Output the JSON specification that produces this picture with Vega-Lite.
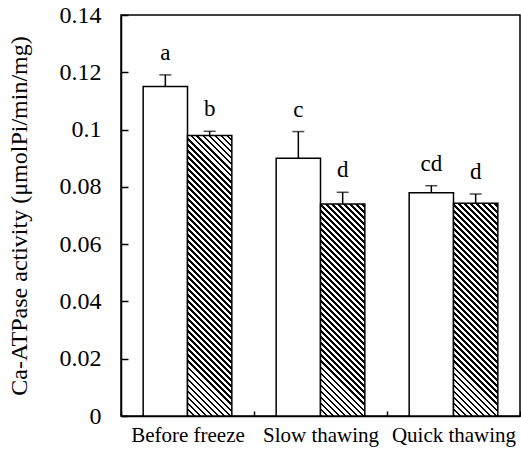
{
  "$schema": "https://vega.github.io/schema/vega-lite/v6.json",
  "width": 399,
  "height": 401,
  "autosize": {"type": "none"},
  "padding": {"left": 121, "top": 15, "right": 1, "bottom": 41},
  "config": {
    "font": "Liberation Serif",
    "view": {"stroke": "black", "strokeWidth": 1.5},
    "axis": {"grid": false, "domainColor": "black", "domainWidth": 1.5, "tickColor": "black", "tickWidth": 1.5, "labelColor": "black", "titleColor": "black", "labelFont": "Liberation Serif", "titleFont": "Liberation Serif"}
  },
  "params": [
    {
      "name": "hatchStops",
      "value": [
        {"offset":0,"color":"#000"},{"offset":0.0071,"color":"#000"},{"offset":0.0071,"color":"#fff"},{"offset":0.0179,"color":"#fff"},
        {"offset":0.0179,"color":"#000"},{"offset":0.0250,"color":"#000"},{"offset":0.0250,"color":"#fff"},{"offset":0.0357,"color":"#fff"},
        {"offset":0.0357,"color":"#000"},{"offset":0.0429,"color":"#000"},{"offset":0.0429,"color":"#fff"},{"offset":0.0536,"color":"#fff"},
        {"offset":0.0536,"color":"#000"},{"offset":0.0607,"color":"#000"},{"offset":0.0607,"color":"#fff"},{"offset":0.0714,"color":"#fff"},
        {"offset":0.0714,"color":"#000"},{"offset":0.0786,"color":"#000"},{"offset":0.0786,"color":"#fff"},{"offset":0.0893,"color":"#fff"},
        {"offset":0.0893,"color":"#000"},{"offset":0.0964,"color":"#000"},{"offset":0.0964,"color":"#fff"},{"offset":0.1071,"color":"#fff"},
        {"offset":0.1071,"color":"#000"},{"offset":0.1143,"color":"#000"},{"offset":0.1143,"color":"#fff"},{"offset":0.1250,"color":"#fff"},
        {"offset":0.1250,"color":"#000"},{"offset":0.1321,"color":"#000"},{"offset":0.1321,"color":"#fff"},{"offset":0.1429,"color":"#fff"},
        {"offset":0.1429,"color":"#000"},{"offset":0.1500,"color":"#000"},{"offset":0.1500,"color":"#fff"},{"offset":0.1607,"color":"#fff"},
        {"offset":0.1607,"color":"#000"},{"offset":0.1679,"color":"#000"},{"offset":0.1679,"color":"#fff"},{"offset":0.1786,"color":"#fff"},
        {"offset":0.1786,"color":"#000"},{"offset":0.1857,"color":"#000"},{"offset":0.1857,"color":"#fff"},{"offset":0.1964,"color":"#fff"},
        {"offset":0.1964,"color":"#000"},{"offset":0.2036,"color":"#000"},{"offset":0.2036,"color":"#fff"},{"offset":0.2143,"color":"#fff"},
        {"offset":0.2143,"color":"#000"},{"offset":0.2214,"color":"#000"},{"offset":0.2214,"color":"#fff"},{"offset":0.2321,"color":"#fff"},
        {"offset":0.2321,"color":"#000"},{"offset":0.2393,"color":"#000"},{"offset":0.2393,"color":"#fff"},{"offset":0.2500,"color":"#fff"},
        {"offset":0.2500,"color":"#000"},{"offset":0.2571,"color":"#000"},{"offset":0.2571,"color":"#fff"},{"offset":0.2679,"color":"#fff"},
        {"offset":0.2679,"color":"#000"},{"offset":0.2750,"color":"#000"},{"offset":0.2750,"color":"#fff"},{"offset":0.2857,"color":"#fff"},
        {"offset":0.2857,"color":"#000"},{"offset":0.2929,"color":"#000"},{"offset":0.2929,"color":"#fff"},{"offset":0.3036,"color":"#fff"},
        {"offset":0.3036,"color":"#000"},{"offset":0.3107,"color":"#000"},{"offset":0.3107,"color":"#fff"},{"offset":0.3214,"color":"#fff"},
        {"offset":0.3214,"color":"#000"},{"offset":0.3286,"color":"#000"},{"offset":0.3286,"color":"#fff"},{"offset":0.3393,"color":"#fff"},
        {"offset":0.3393,"color":"#000"},{"offset":0.3464,"color":"#000"},{"offset":0.3464,"color":"#fff"},{"offset":0.3571,"color":"#fff"},
        {"offset":0.3571,"color":"#000"},{"offset":0.3643,"color":"#000"},{"offset":0.3643,"color":"#fff"},{"offset":0.3750,"color":"#fff"},
        {"offset":0.3750,"color":"#000"},{"offset":0.3821,"color":"#000"},{"offset":0.3821,"color":"#fff"},{"offset":0.3929,"color":"#fff"},
        {"offset":0.3929,"color":"#000"},{"offset":0.4000,"color":"#000"},{"offset":0.4000,"color":"#fff"},{"offset":0.4107,"color":"#fff"},
        {"offset":0.4107,"color":"#000"},{"offset":0.4179,"color":"#000"},{"offset":0.4179,"color":"#fff"},{"offset":0.4286,"color":"#fff"},
        {"offset":0.4286,"color":"#000"},{"offset":0.4357,"color":"#000"},{"offset":0.4357,"color":"#fff"},{"offset":0.4464,"color":"#fff"},
        {"offset":0.4464,"color":"#000"},{"offset":0.4536,"color":"#000"},{"offset":0.4536,"color":"#fff"},{"offset":0.4643,"color":"#fff"},
        {"offset":0.4643,"color":"#000"},{"offset":0.4714,"color":"#000"},{"offset":0.4714,"color":"#fff"},{"offset":0.4821,"color":"#fff"},
        {"offset":0.4821,"color":"#000"},{"offset":0.4893,"color":"#000"},{"offset":0.4893,"color":"#fff"},{"offset":0.5000,"color":"#fff"},
        {"offset":0.5000,"color":"#000"},{"offset":0.5071,"color":"#000"},{"offset":0.5071,"color":"#fff"},{"offset":0.5179,"color":"#fff"},
        {"offset":0.5179,"color":"#000"},{"offset":0.5250,"color":"#000"},{"offset":0.5250,"color":"#fff"},{"offset":0.5357,"color":"#fff"},
        {"offset":0.5357,"color":"#000"},{"offset":0.5429,"color":"#000"},{"offset":0.5429,"color":"#fff"},{"offset":0.5536,"color":"#fff"},
        {"offset":0.5536,"color":"#000"},{"offset":0.5607,"color":"#000"},{"offset":0.5607,"color":"#fff"},{"offset":0.5714,"color":"#fff"},
        {"offset":0.5714,"color":"#000"},{"offset":0.5786,"color":"#000"},{"offset":0.5786,"color":"#fff"},{"offset":0.5893,"color":"#fff"},
        {"offset":0.5893,"color":"#000"},{"offset":0.5964,"color":"#000"},{"offset":0.5964,"color":"#fff"},{"offset":0.6071,"color":"#fff"},
        {"offset":0.6071,"color":"#000"},{"offset":0.6143,"color":"#000"},{"offset":0.6143,"color":"#fff"},{"offset":0.6250,"color":"#fff"},
        {"offset":0.6250,"color":"#000"},{"offset":0.6321,"color":"#000"},{"offset":0.6321,"color":"#fff"},{"offset":0.6429,"color":"#fff"},
        {"offset":0.6429,"color":"#000"},{"offset":0.6500,"color":"#000"},{"offset":0.6500,"color":"#fff"},{"offset":0.6607,"color":"#fff"},
        {"offset":0.6607,"color":"#000"},{"offset":0.6679,"color":"#000"},{"offset":0.6679,"color":"#fff"},{"offset":0.6786,"color":"#fff"},
        {"offset":0.6786,"color":"#000"},{"offset":0.6857,"color":"#000"},{"offset":0.6857,"color":"#fff"},{"offset":0.6964,"color":"#fff"},
        {"offset":0.6964,"color":"#000"},{"offset":0.7036,"color":"#000"},{"offset":0.7036,"color":"#fff"},{"offset":0.7143,"color":"#fff"},
        {"offset":0.7143,"color":"#000"},{"offset":0.7214,"color":"#000"},{"offset":0.7214,"color":"#fff"},{"offset":0.7321,"color":"#fff"},
        {"offset":0.7321,"color":"#000"},{"offset":0.7393,"color":"#000"},{"offset":0.7393,"color":"#fff"},{"offset":0.7500,"color":"#fff"},
        {"offset":0.7500,"color":"#000"},{"offset":0.7571,"color":"#000"},{"offset":0.7571,"color":"#fff"},{"offset":0.7679,"color":"#fff"},
        {"offset":0.7679,"color":"#000"},{"offset":0.7750,"color":"#000"},{"offset":0.7750,"color":"#fff"},{"offset":0.7857,"color":"#fff"},
        {"offset":0.7857,"color":"#000"},{"offset":0.7929,"color":"#000"},{"offset":0.7929,"color":"#fff"},{"offset":0.8036,"color":"#fff"},
        {"offset":0.8036,"color":"#000"},{"offset":0.8107,"color":"#000"},{"offset":0.8107,"color":"#fff"},{"offset":0.8214,"color":"#fff"},
        {"offset":0.8214,"color":"#000"},{"offset":0.8286,"color":"#000"},{"offset":0.8286,"color":"#fff"},{"offset":0.8393,"color":"#fff"},
        {"offset":0.8393,"color":"#000"},{"offset":0.8464,"color":"#000"},{"offset":0.8464,"color":"#fff"},{"offset":0.8571,"color":"#fff"},
        {"offset":0.8571,"color":"#000"},{"offset":0.8643,"color":"#000"},{"offset":0.8643,"color":"#fff"},{"offset":0.8750,"color":"#fff"},
        {"offset":0.8750,"color":"#000"},{"offset":0.8821,"color":"#000"},{"offset":0.8821,"color":"#fff"},{"offset":0.8929,"color":"#fff"},
        {"offset":0.8929,"color":"#000"},{"offset":0.9000,"color":"#000"},{"offset":0.9000,"color":"#fff"},{"offset":0.9107,"color":"#fff"},
        {"offset":0.9107,"color":"#000"},{"offset":0.9179,"color":"#000"},{"offset":0.9179,"color":"#fff"},{"offset":0.9286,"color":"#fff"},
        {"offset":0.9286,"color":"#000"},{"offset":0.9357,"color":"#000"},{"offset":0.9357,"color":"#fff"},{"offset":0.9464,"color":"#fff"},
        {"offset":0.9464,"color":"#000"},{"offset":0.9536,"color":"#000"},{"offset":0.9536,"color":"#fff"},{"offset":0.9643,"color":"#fff"},
        {"offset":0.9643,"color":"#000"},{"offset":0.9714,"color":"#000"},{"offset":0.9714,"color":"#fff"},{"offset":0.9821,"color":"#fff"},
        {"offset":0.9821,"color":"#000"},{"offset":0.9893,"color":"#000"},{"offset":0.9893,"color":"#fff"},{"offset":1,"color":"#fff"}
      ]
    }
  ],
  "data": {
    "values": [
      {"group": "Before freeze", "bar": "open", "value": 0.1150, "upper": 0.1191, "letter": "a"},
      {"group": "Before freeze", "bar": "hatched", "value": 0.0979, "upper": 0.0994, "letter": "b"},
      {"group": "Slow thawing", "bar": "open", "value": 0.0900, "upper": 0.0993, "letter": "c"},
      {"group": "Slow thawing", "bar": "hatched", "value": 0.0740, "upper": 0.0781, "letter": "d"},
      {"group": "Quick thawing", "bar": "open", "value": 0.0779, "upper": 0.0804, "letter": "cd"},
      {"group": "Quick thawing", "bar": "hatched", "value": 0.0743, "upper": 0.0775, "letter": "d"}
    ]
  },
  "encoding": {
    "x": {
      "field": "group",
      "type": "nominal",
      "sort": null,
      "scale": {"paddingInner": 0, "paddingOuter": 0},
      "axis": {"title": null, "labelAngle": 0, "labelFontSize": 21, "tickBand": "extent", "tickSize": -5, "labelPadding": 13}
    },
    "xOffset": {
      "field": "bar",
      "type": "nominal",
      "sort": ["open", "hatched"],
      "scale": {"paddingInner": 0, "paddingOuter": 0.5}
    }
  },
  "layer": [
    {
      "mark": {"type": "bar", "stroke": "black", "strokeWidth": 1.5},
      "encoding": {
        "y": {
          "field": "value",
          "type": "quantitative",
          "scale": {"domain": [0, 0.14], "nice": false},
          "axis": {
            "values": [0, 0.02, 0.04, 0.06, 0.08, 0.1, 0.12, 0.14],
            "format": ".2~f",
            "labelFontSize": 24,
            "tickSize": -7,
            "labelPadding": 27,
            "title": "Ca-ATPase activity (μmolPi/min/mg)",
            "titleFontSize": 24,
            "titleFontWeight": "normal",
            "titlePadding": 28
          }
        },
        "fill": {
          "value": {
            "expr": "datum.bar == 'hatched' ? {gradient: 'linear', x1: 0, y1: 1, x2: 336.6 * bandwidth('xOffset') / (pow(bandwidth('xOffset'), 2) + pow(scale('y', 0) - scale('y', datum.value), 2)), y2: 1 - 336.6 * (scale('y', 0) - scale('y', datum.value)) / (pow(bandwidth('xOffset'), 2) + pow(scale('y', 0) - scale('y', datum.value), 2)), stops: hatchStops} : 'white'"
          }
        }
      }
    },
    {
      "mark": {"type": "rule", "color": "black", "strokeWidth": 1.5},
      "encoding": {
        "y": {"field": "value", "type": "quantitative"},
        "y2": {"field": "upper"}
      }
    },
    {
      "mark": {"type": "tick", "orient": "horizontal", "color": "black", "size": 12, "thickness": 1.5},
      "encoding": {
        "y": {"field": "upper", "type": "quantitative"}
      }
    },
    {
      "mark": {"type": "text", "baseline": "middle", "dy": -22, "fontSize": 23, "color": "black"},
      "encoding": {
        "y": {"field": "upper", "type": "quantitative"},
        "text": {"field": "letter"}
      }
    }
  ]
}
